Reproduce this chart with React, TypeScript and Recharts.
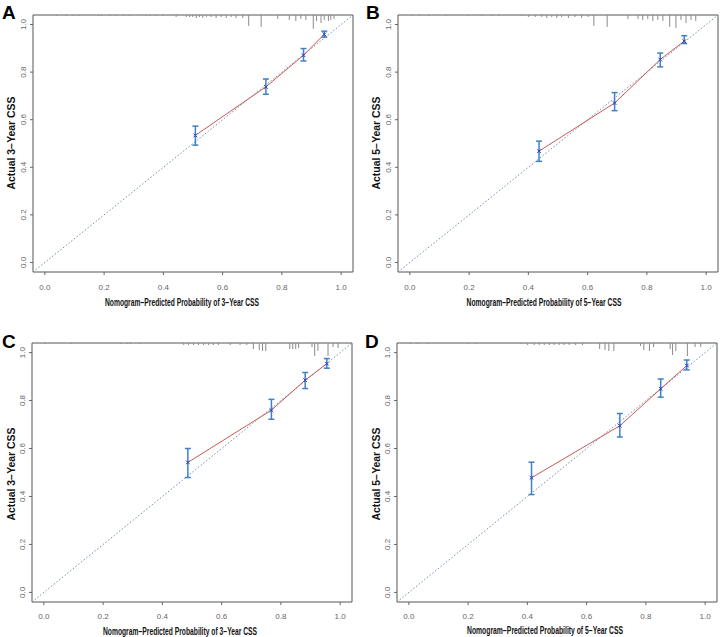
import { ComposedChart, XAxis, YAxis, Scatter, Line, ErrorBar, ReferenceLine, ReferenceArea } from "recharts"

const axisTicks = [0, 0.2, 0.4, 0.6, 0.8, 1.0]
const DOMAIN: [number, number] = [-0.04, 1.04]
const RUG_UNIT = 1 / 240

// A: 3-year CSS (training)
const predA = [0.508, 0.746, 0.873, 0.943]
const actualA = [0.534, 0.738, 0.871, 0.959]
const lowA = [0.493, 0.707, 0.847, 0.947]
const highA = [0.573, 0.771, 0.899, 0.972]
const rugXA = [0.039, 0.073, 0.095, 0.118, 0.18, 0.191, 0.219, 0.241, 0.264, 0.286, 0.342, 0.354, 0.376, 0.398, 0.443, 0.477, 0.488, 0.499, 0.511, 0.522, 0.533, 0.545, 0.561, 0.578, 0.595, 0.612, 0.629, 0.645, 0.668, 0.688, 0.73, 0.786, 0.825, 0.847, 0.864, 0.881, 0.906, 0.917, 0.932, 0.943, 0.957, 0.965, 0.976]
const rugNA = [1, 1, 1, 1, 1, 1, 1, 1, 1, 1, 1, 1, 1, 1, 2, 2, 2, 2, 3, 2, 3, 2, 2, 3, 2, 3, 2, 3, 3, 11, 12, 4, 5, 6, 4, 5, 14, 6, 8, 5, 6, 5, 4]

// B: 5-year CSS (training)
const predB = [0.436, 0.691, 0.845, 0.926]
const actualB = [0.468, 0.67, 0.853, 0.93]
const lowB = [0.425, 0.638, 0.822, 0.92]
const highB = [0.51, 0.714, 0.88, 0.953]
const rugXB = [0.005, 0.031, 0.065, 0.121, 0.194, 0.244, 0.277, 0.3, 0.378, 0.4, 0.423, 0.445, 0.462, 0.479, 0.496, 0.512, 0.535, 0.557, 0.58, 0.602, 0.621, 0.666, 0.736, 0.77, 0.786, 0.803, 0.82, 0.837, 0.854, 0.877, 0.898, 0.915, 0.932, 0.949, 0.965]
const rugNB = [1, 1, 1, 1, 1, 1, 1, 1, 1, 2, 2, 2, 3, 2, 3, 2, 3, 2, 3, 2, 11, 12, 4, 4, 5, 4, 6, 5, 6, 12, 13, 5, 8, 5, 6]

// C: 3-year CSS (validation)
const predC = [0.486, 0.768, 0.882, 0.955]
const actualC = [0.542, 0.76, 0.885, 0.954]
const lowC = [0.479, 0.722, 0.85, 0.935]
const highC = [0.6, 0.805, 0.917, 0.975]
const rugXC = [0.005, 0.091, 0.259, 0.281, 0.292, 0.326, 0.472, 0.488, 0.505, 0.522, 0.539, 0.556, 0.572, 0.589, 0.629, 0.662, 0.685, 0.707, 0.727, 0.738, 0.749, 0.83, 0.84, 0.85, 0.86, 0.905, 0.914, 0.925, 0.959, 0.976, 0.993]
const rugNC = [1, 1, 1, 1, 1, 1, 2, 2, 2, 2, 2, 2, 2, 2, 2, 2, 2, 6, 7, 8, 8, 6, 6, 6, 5, 4, 13, 8, 13, 4, 5]

// D: 5-year CSS (validation)
const predD = [0.414, 0.712, 0.85, 0.938]
const actualD = [0.478, 0.695, 0.849, 0.946]
const lowD = [0.408, 0.648, 0.814, 0.928]
const highD = [0.543, 0.746, 0.89, 0.969]
const rugXD = [0.005, 0.031, 0.065, 0.199, 0.227, 0.379, 0.401, 0.423, 0.44, 0.457, 0.474, 0.49, 0.507, 0.524, 0.541, 0.563, 0.586, 0.644, 0.662, 0.675, 0.692, 0.782, 0.793, 0.812, 0.826, 0.882, 0.89, 0.901, 0.94, 0.966, 0.985]
const rugND = [1, 1, 1, 1, 1, 1, 2, 2, 2, 2, 2, 2, 2, 2, 2, 2, 2, 6, 7, 8, 8, 3, 7, 8, 4, 6, 12, 8, 13, 4, 4]

const SANS = "'Liberation Sans', Arial, Helvetica, sans-serif"
const NARROW = "'Liberation Sans Narrow', 'Arial Narrow', 'Liberation Sans', Arial, sans-serif"

const XMark = (props: any) => {
  const { cx, cy } = props
  if (cx == null || cy == null) return null
  const s = 1.8
  return (
    <path
      d={`M${cx - s},${cy - s}L${cx + s},${cy + s}M${cx - s},${cy + s}L${cx + s},${cy - s}`}
      stroke="#2b3fc2"
      strokeWidth={1}
    />
  )
}

const YTick = (props: any) => {
  const { x, y, payload } = props
  return (
    <text
      x={x}
      y={y}
      transform={`rotate(-90, ${x}, ${y})`}
      textAnchor="middle"
      fontSize={8}
      fontFamily={SANS}
      fill="#666"
    >
      {payload.value.toFixed(1)}
    </text>
  )
}

type Box = { x0: number; y0: number; x1: number; y1: number }

function Panel(props: {
  left: number
  top: number
  width: number
  height: number
  box: Box
  pred: number[]
  actual: number[]
  low: number[]
  high: number[]
  rugX: number[]
  rugN: number[]
  tickMargin: number
}) {
  const { left, top, width, height, box, pred, actual, low, high, rugX, rugN, tickMargin } = props
  const points = pred.map((p, i) => ({ x: p, y: actual[i], err: [actual[i] - low[i], high[i] - actual[i]] }))
  const xAxisHeight = 24
  const margin = {
    top: box.y0 - top,
    right: left + width - box.x1,
    bottom: top + height - box.y1 - xAxisHeight,
    left: 0,
  }
  return (
    <div style={{ position: "absolute", left, top }}>
      <ComposedChart width={width} height={height} margin={margin}>
        <XAxis
          type="number"
          dataKey="x"
          domain={DOMAIN}
          ticks={axisTicks}
          allowDataOverflow
          height={xAxisHeight}
          axisLine={false}
          tickSize={3}
          tickMargin={tickMargin}
          tickLine={{ stroke: "#666" }}
          tick={{ fontSize: 8, fontFamily: NARROW, fill: "#666" }}
          tickFormatter={(v: number) => v.toFixed(1)}
        />
        <YAxis
          type="number"
          dataKey="y"
          domain={DOMAIN}
          ticks={axisTicks}
          allowDataOverflow
          width={box.x0 - left}
          axisLine={false}
          tickSize={3}
          tickMargin={4}
          tickLine={{ stroke: "#666" }}
          tick={<YTick />}
        />
        <ReferenceArea x1={DOMAIN[0]} x2={DOMAIN[1]} y1={DOMAIN[0]} y2={DOMAIN[1]} fill="none" stroke="#555" strokeWidth={1} fillOpacity={0} />
        <ReferenceLine
          segment={[{ x: DOMAIN[0], y: DOMAIN[0] }, { x: DOMAIN[1], y: DOMAIN[1] }]}
          stroke="#6f8fb0"
          strokeDasharray="1.5 2"
          strokeWidth={1}
        />
        {rugX.map((rx, i) => (
          <ReferenceLine
            key={`rug-${i}`}
            segment={[{ x: rx, y: DOMAIN[1] }, { x: rx, y: DOMAIN[1] - rugN[i] * RUG_UNIT }]}
            stroke="#8a8a8a"
            strokeWidth={1}
          />
        ))}
        <Line data={points} dataKey="y" stroke="#c95a55" strokeWidth={1} dot={false} isAnimationActive={false} />
        <Scatter data={points} dataKey="y" shape={<XMark />} isAnimationActive={false}>
          <ErrorBar dataKey="err" direction="y" width={3} stroke="#3f80c8" strokeWidth={1.5} />
        </Scatter>
      </ComposedChart>
    </div>
  )
}

const MINUS = "\u2212"

export default function App() {
  return (
    <div style={{ position: "absolute", left: 0, top: 0, width: 720, height: 637, overflow: "hidden", background: "#fff" }}>
      <Panel left={0} top={0} width={360} height={300} box={{ x0: 33, y0: 15, x1: 353, y1: 272 }}
        pred={predA} actual={actualA} low={lowA} high={highA} rugX={rugXA} rugN={rugNA} tickMargin={9} />
      <Panel left={362} top={0} width={358} height={300} box={{ x0: 398, y0: 15, x1: 718, y1: 272 }}
        pred={predB} actual={actualB} low={lowB} high={highB} rugX={rugXB} rugN={rugNB} tickMargin={9} />
      <Panel left={0} top={328} width={360} height={300} box={{ x0: 32, y0: 343, x1: 352, y1: 602 }}
        pred={predC} actual={actualC} low={lowC} high={highC} rugX={rugXC} rugN={rugNC} tickMargin={8} />
      <Panel left={362} top={328} width={358} height={300} box={{ x0: 397, y0: 343, x1: 717, y1: 602 }}
        pred={predD} actual={actualD} low={lowD} high={highD} rugX={rugXD} rugN={rugND} tickMargin={8} />
      <svg width={720} height={637} style={{ position: "absolute", left: 0, top: 0, pointerEvents: "none" }}>
        <g fontFamily={SANS} fontWeight="bold" fontSize={19} fill="#000">
          <text x={2} y={19}>A</text>
          <text x={366} y={19}>B</text>
          <text x={2} y={348}>C</text>
          <text x={365} y={348}>D</text>
        </g>
        <g fontFamily={SANS} fontWeight="bold" fontSize={10} fill="#111" textAnchor="middle">
          <text x={15} y={143} transform="rotate(-90, 15, 143)" textLength={93} lengthAdjust="spacingAndGlyphs">{`Actual 3${MINUS}Year CSS`}</text>
          <text x={380} y={143} transform="rotate(-90, 380, 143)" textLength={93} lengthAdjust="spacingAndGlyphs">{`Actual 5${MINUS}Year CSS`}</text>
          <text x={15} y={474} transform="rotate(-90, 15, 474)" textLength={93} lengthAdjust="spacingAndGlyphs">{`Actual 3${MINUS}Year CSS`}</text>
          <text x={380} y={474} transform="rotate(-90, 380, 474)" textLength={93} lengthAdjust="spacingAndGlyphs">{`Actual 5${MINUS}Year CSS`}</text>
        </g>
        <g fontFamily={NARROW} fontWeight="bold" fontSize={10} fill="#111" textAnchor="middle">
          <text x={182} y={306} textLength={154} lengthAdjust="spacingAndGlyphs">{`Nomogram${MINUS}Predicted Probability of 3${MINUS}Year CSS`}</text>
          <text x={544} y={306} textLength={155} lengthAdjust="spacingAndGlyphs">{`Nomogram${MINUS}Predicted Probability of 5${MINUS}Year CSS`}</text>
          <text x={180} y={635} textLength={154} lengthAdjust="spacingAndGlyphs">{`Nomogram${MINUS}Predicted Probability of 3${MINUS}Year CSS`}</text>
          <text x={545} y={634} textLength={156} lengthAdjust="spacingAndGlyphs">{`Nomogram${MINUS}Predicted Probability of 5${MINUS}Year CSS`}</text>
        </g>
      </svg>
    </div>
  )
}
